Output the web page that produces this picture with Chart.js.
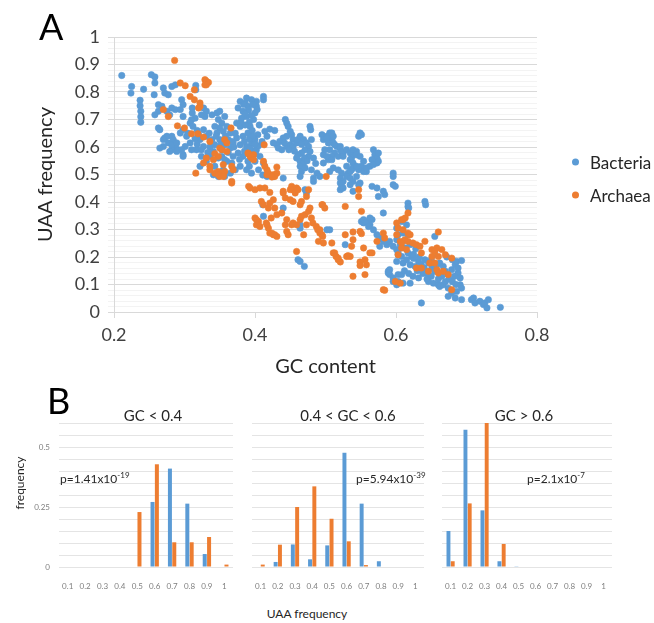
<!DOCTYPE html>
<html>
<head>
<meta charset="utf-8">
<script src="https://cdn.jsdelivr.net/npm/chart.js@4.4.0/dist/chart.umd.min.js"></script>
<style>
    body { margin: 0; background: #fff; }
    #page { position: relative; width: 654px; height: 623px; overflow: hidden; font-family: Lato, "Open Sans", sans-serif; color: #262626; }
    canvas { position: absolute; }
    .txt { position: absolute; white-space: nowrap; line-height: 1; }
    .panel { font-size: 36px; color: #000; }
    .htitle { font-size: 15px; transform: translate(-50%, -50%); }
    .pval { font-size: 12px; transform: translateY(-50%); }
    .pval sup { font-size: 8px; }
    .legend { position: absolute; left: 572px; font-size: 17px; display: flex; align-items: center; transform: translateY(-50%); }
    .legend span.dot { width: 7px; height: 7px; border-radius: 50%; margin-right: 11px; }
</style>
</head>
<body>
<div id="page">
    <canvas id="scatter" width="654" height="380" style="left:0;top:0"></canvas>
    <canvas id="hist1" width="240" height="210" style="left:0;top:395px"></canvas>
    <canvas id="hist2" width="180" height="210" style="left:248px;top:395px"></canvas>
    <canvas id="hist3" width="176" height="210" style="left:438px;top:395px"></canvas>

    <div class="txt panel" style="left:39px;top:8px">A</div>
    <div class="txt panel" style="left:47px;top:382px">B</div>

    <div class="legend" style="top:162px"><span class="dot" style="background:#5B9BD5"></span>Bacteria</div>
    <div class="legend" style="top:195px"><span class="dot" style="background:#ED7D31"></span>Archaea</div>

    <div class="txt htitle" style="left:153px;top:415px">GC &lt; 0.4</div>
    <div class="txt htitle" style="left:348px;top:415px">0.4 &lt; GC &lt; 0.6</div>
    <div class="txt htitle" style="left:524px;top:415px">GC &gt; 0.6</div>

    <div class="txt" style="left:20px;top:483px;font-size:12px;transform:translate(-50%,-50%) rotate(-90deg)">frequency</div>
    <div class="txt" style="left:307px;top:614px;font-size:12px;transform:translate(-50%,-50%)">UAA frequency</div>

    <div class="txt pval" style="left:60px;top:478px">p=1.41x10<sup>-19</sup></div>
    <div class="txt pval" style="left:356px;top:478px">p=5.94x10<sup>-39</sup></div>
    <div class="txt pval" style="left:527px;top:478px">p=2.1x10<sup>-7</sup></div>
</div>

<script>
// GC content vs UAA frequency, one [gc, uaa] pair per genome
const bacteriaPoints = [
    [0.211,0.860],[0.253,0.863],[0.258,0.855],[0.258,0.833],[0.225,0.820],[0.224,0.796],[0.242,0.810],[0.257,0.790],
    [0.237,0.770],[0.237,0.750],[0.238,0.730],[0.238,0.710],[0.238,0.690],
    [0.270,0.815],[0.272,0.796],[0.277,0.790],[0.282,0.820],[0.287,0.826],[0.316,0.824],[0.316,0.808],
    [0.263,0.754],[0.268,0.748],[0.263,0.730],[0.275,0.730],[0.282,0.742],[0.287,0.736],[0.258,0.717],[0.279,0.717],
    [0.296,0.772],[0.298,0.754],[0.294,0.736],[0.298,0.711],
    [0.311,0.742],[0.311,0.724],[0.315,0.705],[0.310,0.699],
    [0.327,0.742],[0.331,0.730],[0.329,0.711],[0.324,0.717],[0.339,0.717],
    [0.263,0.669],[0.272,0.633],[0.282,0.639],[0.277,0.615],[0.287,0.602],[0.270,0.602],[0.265,0.596],[0.282,0.590],
    [0.301,0.602],[0.298,0.572],[0.289,0.584],[0.265,0.663],[0.275,0.639],[0.284,0.627],[0.270,0.627],[0.282,0.608],
    [0.279,0.584],[0.289,0.615],[0.291,0.590],
    [0.327,0.663],[0.331,0.639],[0.322,0.627],[0.327,0.602],[0.317,0.590],[0.308,0.615],[0.303,0.639],[0.298,0.663],
    [0.294,0.651],[0.324,0.566],[0.331,0.548],[0.322,0.530],[0.298,0.566],[0.296,0.590],
    [0.308,0.687],[0.312,0.675],[0.318,0.660],[0.305,0.650],[0.310,0.590],[0.324,0.590],
    [0.315,0.630],[0.320,0.645],[0.335,0.650],[0.336,0.600],[0.318,0.610],[0.333,0.580],
    [0.343,0.530],[0.353,0.566],[0.357,0.554],[0.341,0.499],[0.348,0.493],[0.357,0.493],
    [0.388,0.778],[0.386,0.760],[0.390,0.748],[0.379,0.766],[0.376,0.742],[0.383,0.730],[0.388,0.711],[0.381,0.705],
    [0.374,0.687],[0.379,0.675],[0.393,0.675],[0.390,0.651],[0.383,0.639],[0.374,0.633],[0.369,0.615],[0.379,0.608],
    [0.388,0.602],[0.395,0.615],[0.400,0.627],[0.402,0.590],[0.395,0.572],[0.383,0.566],[0.376,0.578],[0.369,0.566],
    [0.390,0.548],[0.400,0.548],[0.407,0.566],[0.412,0.542],[0.405,0.517],[0.395,0.505],
    [0.412,0.784],[0.412,0.772],[0.402,0.766],[0.402,0.748],[0.403,0.736],[0.400,0.724],[0.395,0.772],[0.397,0.754],
    [0.392,0.690],[0.398,0.700],[0.396,0.660],[0.404,0.645],[0.392,0.630],[0.398,0.585],[0.405,0.605],[0.410,0.620],
    [0.384,0.755],[0.391,0.735],[0.386,0.720],[0.395,0.715],[0.380,0.690],[0.386,0.680],[0.397,0.640],[0.385,0.620],
    [0.393,0.595],[0.401,0.575],[0.385,0.585],[0.378,0.555],[0.392,0.530],[0.400,0.610],[0.406,0.680],[0.372,0.650],
    [0.346,0.724],[0.350,0.730],[0.357,0.711],[0.348,0.700],[0.353,0.687],[0.360,0.675],[0.350,0.669],[0.343,0.675],
    [0.355,0.657],[0.365,0.651],[0.362,0.627],[0.346,0.651],[0.339,0.627],[0.350,0.627],[0.343,0.608],[0.357,0.608],
    [0.365,0.596],[0.353,0.590],[0.341,0.584],[0.336,0.566],[0.348,0.560],[0.360,0.548],[0.367,0.542],[0.355,0.517],
    [0.372,0.517],[0.379,0.530],[0.388,0.517],[0.365,0.505],
    [0.358,0.640],[0.367,0.620],[0.370,0.600],[0.362,0.580],[0.345,0.640],[0.352,0.610],
    [0.414,0.657],[0.421,0.665],[0.428,0.660],[0.417,0.639],
    [0.443,0.700],[0.445,0.687],[0.447,0.675],[0.450,0.657],[0.452,0.645],[0.445,0.639],[0.454,0.627],[0.440,0.633],
    [0.435,0.620],[0.431,0.608],[0.426,0.615],[0.433,0.596],[0.438,0.590],[0.445,0.602],[0.450,0.608],[0.454,0.602],
    [0.459,0.615],[0.461,0.627],[0.464,0.639],[0.469,0.627],[0.473,0.615],[0.476,0.602],[0.471,0.590],[0.466,0.578],
    [0.461,0.572],[0.459,0.560],[0.464,0.548],[0.469,0.542],[0.476,0.566],[0.478,0.584],[0.480,0.627],[0.478,0.675],
    [0.479,0.663],
    [0.442,0.615],[0.448,0.590],[0.456,0.585],[0.466,0.610],[0.470,0.560],[0.483,0.560],[0.486,0.540],[0.474,0.550],
    [0.464,0.530],[0.466,0.511],[0.471,0.524],[0.480,0.517],[0.488,0.505],[0.492,0.493],
    [0.411,0.498],[0.417,0.493],[0.426,0.493],[0.440,0.487],[0.464,0.493],[0.483,0.487],[0.483,0.475],
    [0.471,0.445],[0.473,0.433],[0.440,0.378],[0.412,0.348],[0.411,0.390],[0.464,0.317],[0.464,0.305],
    [0.461,0.190],[0.464,0.184],[0.470,0.166],
    [0.495,0.645],[0.497,0.627],[0.502,0.639],[0.506,0.651],[0.509,0.627],[0.504,0.615],[0.511,0.615],[0.516,0.602],
    [0.506,0.590],[0.513,0.578],[0.521,0.590],[0.525,0.578],[0.518,0.566],[0.509,0.566],[0.504,0.554],[0.497,0.572],
    [0.499,0.590],[0.502,0.633],[0.509,0.651],[0.511,0.639],[0.513,0.608],[0.521,0.602],[0.523,0.584],[0.525,0.566],
    [0.502,0.566],[0.509,0.554],[0.497,0.542],
    [0.530,0.590],[0.535,0.578],[0.539,0.572],[0.537,0.560],[0.544,0.584],[0.549,0.651],[0.547,0.639],[0.535,0.554],
    [0.539,0.542],[0.539,0.590],[0.544,0.572],[0.549,0.566],[0.554,0.548],[0.551,0.530],[0.547,0.517],[0.537,0.517],
    [0.532,0.505],[0.558,0.511],[0.563,0.530],[0.551,0.645],
    [0.568,0.590],[0.570,0.572],[0.573,0.560],[0.566,0.554],[0.573,0.542],[0.568,0.536],[0.575,0.578],[0.575,0.548],
    [0.596,0.505],
    [0.506,0.511],[0.511,0.524],[0.518,0.517],[0.523,0.505],[0.530,0.530],[0.535,0.511],[0.539,0.524],[0.544,0.530],
    [0.554,0.511],[0.558,0.524],
    [0.521,0.487],[0.525,0.475],[0.530,0.493],[0.535,0.487],[0.539,0.475],[0.544,0.493],[0.549,0.469],[0.566,0.457],
    [0.573,0.451],[0.596,0.493],[0.596,0.463],[0.599,0.457],
    [0.521,0.445],[0.525,0.451],[0.535,0.463],[0.539,0.439],[0.547,0.463],[0.523,0.457],[0.521,0.469],
    [0.575,0.420],[0.582,0.439],[0.584,0.427],[0.582,0.360],
    [0.502,0.299],[0.506,0.299],[0.528,0.245],
    [0.551,0.329],[0.566,0.336],[0.563,0.317],[0.554,0.324],
    [0.554,0.336],[0.558,0.329],[0.563,0.342],[0.561,0.311],[0.568,0.299],[0.573,0.281],[0.577,0.269],[0.582,0.257],
    [0.587,0.245],[0.591,0.257],[0.596,0.239],[0.601,0.227],[0.603,0.208],[0.601,0.305],[0.603,0.281],[0.577,0.239],
    [0.591,0.136],[0.596,0.111],[0.601,0.099],[0.589,0.148],[0.591,0.154],[0.589,0.142],[0.596,0.124],[0.603,0.136],
    [0.610,0.105],
    [0.617,0.396],[0.617,0.384],[0.618,0.378],[0.641,0.402],[0.642,0.390],
    [0.608,0.329],[0.615,0.317],[0.603,0.305],[0.610,0.287],[0.617,0.281],[0.601,0.263],[0.606,0.245],[0.613,0.233],
    [0.603,0.215],[0.608,0.202],[0.617,0.215],[0.622,0.202],[0.601,0.184],[0.610,0.178],[0.620,0.172],[0.627,0.166],
    [0.632,0.184],[0.636,0.172],[0.641,0.190],[0.646,0.178],[0.651,0.160],[0.655,0.148],[0.658,0.172],[0.662,0.178],
    [0.667,0.166],[0.670,0.148],[0.674,0.136],[0.679,0.154],[0.684,0.172],[0.686,0.184],[0.693,0.187],[0.688,0.142],
    [0.691,0.124],[0.608,0.136],[0.603,0.111],[0.620,0.105],[0.632,0.124],[0.646,0.111],[0.653,0.105],[0.660,0.099],
    [0.662,0.093],[0.667,0.099],[0.674,0.087],[0.679,0.069],[0.686,0.075],[0.691,0.099],[0.693,0.087],[0.674,0.057],
    [0.684,0.051],[0.693,0.045],[0.655,0.275],[0.636,0.033],
    [0.615,0.190],[0.625,0.195],[0.630,0.150],[0.640,0.160],[0.645,0.140],[0.650,0.130],[0.660,0.120],[0.665,0.130],
    [0.675,0.120],[0.680,0.110],[0.685,0.100],[0.625,0.210],[0.628,0.230],[0.620,0.245],[0.612,0.260],[0.633,0.200],
    [0.650,0.190],[0.655,0.210],[0.672,0.200],[0.680,0.190],
    [0.612,0.150],[0.618,0.140],[0.624,0.130],[0.638,0.140],[0.644,0.120],[0.670,0.110],[0.688,0.160],[0.683,0.130],
    [0.707,0.045],[0.710,0.051],[0.712,0.033],[0.719,0.039],[0.724,0.027],[0.726,0.033],[0.729,0.015],[0.731,0.045],
    [0.748,0.017]
];

const archaeaPoints = [
    [0.286,0.915],
    [0.294,0.833],[0.301,0.823],[0.329,0.845],[0.331,0.839],[0.334,0.835],[0.329,0.826],[0.331,0.826],[0.314,0.808],
    [0.308,0.784],[0.314,0.772],[0.322,0.760],[0.322,0.748],[0.320,0.742],
    [0.270,0.736],[0.277,0.711],
    [0.290,0.677],[0.300,0.669],[0.310,0.648],[0.319,0.648],[0.327,0.636],[0.336,0.620],
    [0.366,0.669],
    [0.357,0.627],[0.360,0.615],[0.350,0.596],[0.353,0.590],[0.360,0.584],[0.343,0.576],[0.348,0.566],
    [0.331,0.560],[0.327,0.542],[0.336,0.530],[0.341,0.554],[0.355,0.536],[0.357,0.511],[0.343,0.505],[0.350,0.493],
    [0.353,0.499],[0.348,0.511],[0.352,0.503],[0.355,0.497],
    [0.316,0.505],
    [0.390,0.578],[0.393,0.566],[0.395,0.560],[0.398,0.572],[0.391,0.575],
    [0.367,0.530],[0.369,0.517],
    [0.413,0.608],[0.395,0.566],[0.398,0.554],[0.412,0.548],[0.414,0.530],[0.417,0.517],[0.426,0.499],[0.431,0.505],
    [0.431,0.527],[0.419,0.505],[0.428,0.493],[0.501,0.493],
    [0.336,0.517],[0.348,0.499],[0.355,0.493],[0.367,0.475],[0.367,0.469],
    [0.391,0.457],[0.393,0.451],[0.400,0.445],[0.407,0.451],[0.414,0.451],[0.421,0.435],[0.417,0.499],[0.424,0.491],
    [0.440,0.433],[0.452,0.457],[0.454,0.445],[0.459,0.451],
    [0.409,0.402],[0.412,0.390],[0.419,0.378],[0.421,0.396],[0.426,0.408],[0.428,0.378],[0.440,0.439],[0.443,0.415],
    [0.450,0.445],[0.457,0.433],[0.461,0.445],[0.476,0.445],[0.473,0.420],
    [0.400,0.342],[0.405,0.329],[0.402,0.317],[0.407,0.311],[0.416,0.324],[0.419,0.305],[0.421,0.287],[0.426,0.281],
    [0.431,0.275],[0.423,0.342],[0.431,0.354],[0.438,0.360],[0.445,0.336],[0.443,0.317],[0.452,0.317],[0.445,0.293],
    [0.447,0.281],[0.454,0.324],[0.459,0.317],[0.464,0.336],[0.466,0.348],[0.471,0.354],[0.476,0.366],[0.478,0.378],
    [0.480,0.342],[0.482,0.324],[0.487,0.311],[0.489,0.299],[0.492,0.287],[0.495,0.281],[0.469,0.281],[0.473,0.317],
    [0.464,0.390],[0.466,0.402],[0.495,0.390],[0.499,0.378],[0.454,0.402],[0.450,0.408],
    [0.402,0.336],[0.417,0.317],[0.424,0.287],[0.428,0.281],
    [0.459,0.220],[0.490,0.257],[0.497,0.251],[0.509,0.251],[0.511,0.215],[0.515,0.202],[0.518,0.190],[0.521,0.182],
    [0.528,0.281],[0.530,0.202],[0.535,0.202],[0.537,0.239],[0.539,0.263],[0.539,0.291],[0.549,0.293],[0.551,0.366],
    [0.547,0.445],[0.547,0.420],[0.528,0.384],[0.554,0.233],[0.556,0.190],[0.549,0.182],[0.549,0.169],[0.566,0.215],
    [0.558,0.172],[0.556,0.136],[0.539,0.130],[0.582,0.081],[0.584,0.079],
    [0.496,0.390],[0.492,0.299],[0.496,0.275],
    [0.532,0.205],[0.563,0.215],[0.573,0.257],[0.582,0.287],[0.584,0.269],[0.551,0.285],[0.513,0.215],[0.518,0.196],
    [0.617,0.360],[0.613,0.342],[0.608,0.336],[0.610,0.336],[0.601,0.324],[0.603,0.305],[0.610,0.299],[0.617,0.287],
    [0.620,0.281],[0.601,0.281],
    [0.606,0.257],[0.608,0.251],[0.613,0.263],[0.617,0.257],[0.624,0.251],[0.629,0.245],[0.634,0.239],[0.641,0.257],
    [0.660,0.291],
    [0.608,0.233],[0.615,0.227],[0.603,0.208],
    [0.636,0.215],[0.651,0.227],[0.658,0.233],[0.655,0.220],[0.665,0.227],[0.670,0.208],[0.679,0.196],[0.651,0.202],
    [0.660,0.202],
    [0.629,0.160],[0.636,0.160],[0.646,0.148],[0.658,0.154],[0.660,0.142],[0.667,0.148],[0.674,0.136],[0.648,0.178],
    [0.655,0.178],
    [0.606,0.105],[0.599,0.111],[0.679,0.081]
];

// UAA frequency histograms, split by GC content
const uaaBins = ['0.1', '0.2', '0.3', '0.4', '0.5', '0.6', '0.7', '0.8', '0.9', '1'];
const lowGcBacteria  = [0, 0, 0, 0, 0, 0.271, 0.410, 0.264, 0.054, 0];
const lowGcArchaea   = [0, 0, 0, 0, 0.229, 0.428, 0.103, 0.103, 0.125, 0.010];
const midGcBacteria  = [0, 0.021, 0.094, 0.032, 0.090, 0.476, 0.264, 0.024, 0, 0];
const midGcArchaea   = [0.010, 0.093, 0.250, 0.336, 0.201, 0.107, 0.008, 0, 0, 0];
const highGcBacteria = [0.150, 0.572, 0.236, 0.024, 0.003, 0, 0, 0, 0, 0];
const highGcArchaea  = [0.024, 0.265, 0.600, 0.096, 0, 0, 0, 0, 0, 0];

const BLUE = '#5B9BD5';
const ORANGE = '#ED7D31';
const FONT = 'Lato';

function toXY(pairs) {
    return pairs.map(p => ({x: p[0], y: p[1]}));
}

function isMajor(value) {
    return Math.round(value * 100) % 10 === 0;
}

new Chart(document.getElementById('scatter'), {
    type: 'scatter',
    data: {
        datasets: [
            {label: 'Bacteria', data: toXY(bacteriaPoints), backgroundColor: BLUE, borderColor: BLUE,
             pointRadius: 3.2, borderWidth: 0.6, order: 2},
            {label: 'Archaea', data: toXY(archaeaPoints), backgroundColor: ORANGE, borderColor: ORANGE,
             pointRadius: 3.2, borderWidth: 0.6, order: 1}
        ]
    },
    options: {
        responsive: false,
        animation: false,
        layout: {padding: {top: 37, right: 117, left: 0, bottom: 0}},
        plugins: {legend: {display: false}, tooltip: {enabled: false}},
        scales: {
            x: {
                type: 'linear', min: 0.2, max: 0.8,
                afterFit: s => { s.height = 68; },
                ticks: {stepSize: 0.2, padding: 6, color: '#404040', font: {family: FONT, size: 18},
                        callback: v => v.toFixed(1)},
                grid: {drawOnChartArea: false, tickLength: 6, color: '#d9d9d9'},
                border: {color: '#d9d9d9'},
                title: {display: true, text: 'GC content', color: '#262626',
                        font: {family: FONT, size: 20}, padding: {top: 0, bottom: 1}}
            },
            y: {
                min: 0, max: 1,
                afterFit: s => { s.width = 114; },
                ticks: {
                    stepSize: 0.02, autoSkip: false, padding: 8, color: '#404040',
                    font: {family: FONT, size: 18},
                    callback: v => {
                        const k = Math.round(v * 100);
                        if (k % 10) return '';
                        if (k === 100) return '1';
                        if (k === 0) return '0';
                        return (k / 100).toFixed(1);
                    }
                },
                grid: {
                    tickLength: 6,
                    color: ctx => (ctx.tick && !isMajor(ctx.tick.value)) ? '#f3f3f3' : '#d9d9d9'
                },
                border: {color: '#d9d9d9'},
                title: {display: true, text: 'UAA frequency', color: '#262626',
                        font: {family: FONT, size: 20}, padding: {top: 34}}
            }
        }
    }
});

function histogram(id, bacteria, archaea, withLabels, padRight) {
    return new Chart(document.getElementById(id), {
        type: 'bar',
        data: {
            labels: uaaBins,
            datasets: [
                {label: 'Bacteria', data: bacteria, backgroundColor: BLUE},
                {label: 'Archaea', data: archaea, backgroundColor: ORANGE}
            ]
        },
        options: {
            responsive: false,
            animation: false,
            categoryPercentage: 0.5,
            barPercentage: 0.92,
            layout: {padding: {top: 28, left: 0, right: padRight, bottom: 0}},
            plugins: {legend: {display: false}, tooltip: {enabled: false}},
            scales: {
                x: {
                    afterFit: s => { s.height = 38; },
                    grid: {display: false},
                    border: {display: false},
                    ticks: {padding: 7, color: '#7f7f7f', font: {family: FONT, size: 8}, maxRotation: 0}
                },
                y: {
                    min: 0, max: 0.6,
                    afterFit: s => { s.width = withLabels ? 59 : 0; },
                    ticks: {
                        display: withLabels, stepSize: 0.05, autoSkip: false, padding: 9,
                        color: '#7f7f7f', font: {family: FONT, size: 8},
                        callback: v => {
                            const k = Math.round(v * 100);
                            return k === 0 ? '0' : k === 25 ? '0.25' : k === 50 ? '0.5' : '';
                        }
                    },
                    grid: {color: '#e4e4e4', drawTicks: false},
                    border: {display: false}
                }
            }
        }
    });
}

histogram('hist1', lowGcBacteria, lowGcArchaea, true, 7);
histogram('hist2', midGcBacteria, midGcArchaea, false, 4);
histogram('hist3', highGcBacteria, highGcArchaea, false, 2);
</script>
</body>
</html>
